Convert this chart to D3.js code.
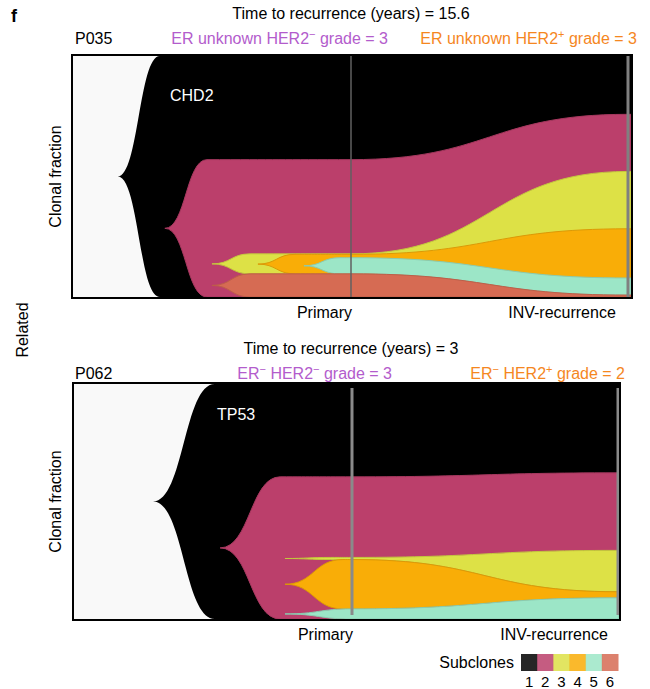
<!DOCTYPE html>
<html>
<head>
<meta charset="utf-8">
<script src="https://cdn.jsdelivr.net/npm/d3@7"></script>
<style>
  body { margin: 0; background: #fff; }
  text { font-family: "Liberation Sans", Arial, Helvetica, sans-serif; }
</style>
</head>
<body>
<svg id="chart" width="650" height="689"></svg>
<script>
// subclones and colours
var subclones = [1, 2, 3, 4, 5, 6];
var cloneColors = ["#000000", "#bb3f6b", "#dde146", "#f9ad07", "#9ce6c7", "#d66b53"];
var timeLabels = ["Primary", "INV-recurrence"];
var sampleTimes = [50, 100];

// P035 : parent clone, time it appears, time it reaches size, fractions (%)
var p035Parents = [0, 1, 2, 3, 4, 2];
var p035Emerge = [7.9, 16.4, 24.9, 33.2, 41.5, 24.9];
var p035Settle = [15.5, 24, 31.8, 39.9, 48, 31.8];
var p035Primary = [100, 57, 8.3, 8.1, 6.7, 9.6];
var p035Recurrence = [100, 75.8, 51.3, 27.5, 7.1, 0.8];

// P062
var p062Parents = [0, 1, 2, 2, 2];
var p062Emerge = [12.6, 25.2, 37.4, 37.4, 37.4];
var p062Settle = [24.2, 36.5, 46, 48.3, 50];
var p062Primary = [100, 60.5, 0.9, 21, 4.3];
var p062Recurrence = [100, 62.2, 17.6, 2.6, 9];

var purple = "#b35ccc", orange = "#f5871f";
var svg = d3.select("#chart");

// nested layout: children stacked at the bottom of their parent
function layout(fracs, parents) {
  var spans = [], cursor = {};
  fracs.forEach(function(f, i) {
    var p = parents[i];
    if (p === 0) { spans[i] = [(100 - f) / 2, (100 + f) / 2]; return; }
    var par = spans[p - 1];
    if (cursor[p] === undefined) {
      var kids = d3.sum(fracs.filter(function(_, j) { return parents[j] === p; }));
      cursor[p] = par[1] - kids;
    }
    spans[i] = [cursor[p], cursor[p] + f];
    cursor[p] += f;
  });
  return spans;
}

function drawPanel(cfg) {
  var g = svg.append("g");
  var x = d3.scaleLinear().domain([0, 100]).range([cfg.x0, cfg.x1]);
  var y = d3.scaleLinear().domain([0, 100]).range([cfg.top, cfg.bottom]);
  var tEnd = x.invert(cfg.frameRight);

  var clipId = "clip" + cfg.name;
  g.append("clipPath").attr("id", clipId).append("rect")
    .attr("x", cfg.frameLeft).attr("y", cfg.top)
    .attr("width", cfg.frameRight - cfg.frameLeft).attr("height", cfg.bottom - cfg.top);

  g.append("rect")
    .attr("x", cfg.frameLeft).attr("y", cfg.top)
    .attr("width", cfg.frameRight - cfg.frameLeft).attr("height", cfg.bottom - cfg.top)
    .style("fill", "#f9f9f9");

  var prim = layout(cfg.primary, cfg.parents);
  var rec = layout(cfg.recurrence, cfg.parents);

  var area = d3.area()
    .x(function(d) { return x(d.t); })
    .y0(function(d) { return y(d.a); })
    .y1(function(d) { return y(d.b); })
    .curve(d3.curveBumpX);

  var plot = g.append("g").attr("clip-path", "url(#" + clipId + ")");

  cfg.primary.forEach(function(f, i) {
    var mid = (prim[i][0] + prim[i][1]) / 2;
    var pts = [{t: cfg.emerge[i], a: mid, b: mid}];
    if (cfg.settle[i] < sampleTimes[0]) pts.push({t: cfg.settle[i], a: prim[i][0], b: prim[i][1]});
    pts.push({t: sampleTimes[0], a: prim[i][0], b: prim[i][1]});
    pts.push({t: sampleTimes[1], a: rec[i][0], b: rec[i][1]});
    pts.push({t: tEnd, a: rec[i][0], b: rec[i][1]});
    var c = cloneColors[i];
    plot.append("path")
      .datum(pts)
      .attr("d", area)
      .style("fill", c)
      .style("stroke", i === 0 ? "none" : d3.color(c).darker(0.35))
      .style("stroke-width", 1);
  });

  // sample lines
  sampleTimes.forEach(function(t, k) {
    plot.append("line")
      .attr("x1", x(t)).attr("x2", x(t))
      .attr("y1", cfg.top + cfg.lineInset).attr("y2", cfg.bottom - cfg.lineInset)
      .style("stroke", cfg.lineColor[k])
      .style("stroke-width", cfg.lineWidth[k]);
  });

  g.append("rect")
    .attr("x", cfg.frameLeft - 1).attr("y", cfg.top - 1)
    .attr("width", cfg.frameRight - cfg.frameLeft + 2).attr("height", cfg.bottom - cfg.top + 2)
    .style("fill", "none").style("stroke", "#000").style("stroke-width", 2);

  g.append("text").attr("x", cfg.geneX).attr("y", cfg.geneY)
    .text(cfg.gene).style("fill", "#fff").style("font-size", "16px");

  // time labels
  g.append("text").attr("x", x(sampleTimes[0]) + 1).attr("y", cfg.bottom + 21)
    .attr("text-anchor", "end").text(timeLabels[0]).style("font-size", "16px");
  g.append("text").attr("x", cfg.recLabelX).attr("y", cfg.bottom + 21)
    .attr("text-anchor", "middle").text(timeLabels[1]).style("font-size", "16px");

  g.append("text")
    .attr("transform", "translate(61," + ((cfg.top + cfg.bottom) / 2) + ") rotate(-90)")
    .attr("text-anchor", "middle").text("Clonal fraction").style("font-size", "16px");

  // headers
  g.append("text").attr("x", 351).attr("y", cfg.titleY).attr("text-anchor", "middle")
    .text("Time to recurrence (years) = " + cfg.years).style("font-size", "16px");
  g.append("text").attr("x", 75).attr("y", cfg.titleY + 25)
    .text(cfg.name).style("font-size", "16px");

  [cfg.primaryLabel, cfg.recLabel].forEach(function(lab, k) {
    var t = g.append("text").attr("x", lab.x).attr("y", cfg.titleY + 25)
      .attr("text-anchor", "end").style("font-size", "16px")
      .style("fill", k === 0 ? purple : orange);
    var shift = 0;
    lab.parts.forEach(function(p) {
      if (p.sup) {
        t.append("tspan").attr("dy", -6 - shift).style("font-size", "11px").text(p.sup);
        shift = -6;
      } else {
        t.append("tspan").attr("dy", -shift).text(p.txt);
        shift = 0;
      }
    });
  });
}

drawPanel({
  name: "P035", years: "15.6", gene: "CHD2", geneX: 170, geneY: 101,
  parents: p035Parents, emerge: p035Emerge, settle: p035Settle,
  primary: p035Primary, recurrence: p035Recurrence,
  x0: 74, x1: 628, frameLeft: 73, frameRight: 631, top: 56, bottom: 297,
  lineInset: 0, lineColor: ["#606060", "#808080"], lineWidth: [1.5, 3],
  recLabelX: 562, titleY: 19,
  primaryLabel: {x: 388, parts: [{txt: "ER unknown HER2"}, {sup: "\u2212"}, {txt: " grade = 3"}]},
  recLabel: {x: 637, parts: [{txt: "ER unknown HER2"}, {sup: "+"}, {txt: " grade = 3"}]}
});

drawPanel({
  name: "P062", years: "3", gene: "TP53", geneX: 217, geneY: 420,
  parents: p062Parents, emerge: p062Emerge, settle: p062Settle,
  primary: p062Primary, recurrence: p062Recurrence,
  x0: 86, x1: 618, frameLeft: 74, frameRight: 619, top: 384, bottom: 619,
  lineInset: 4, lineColor: ["#8a8a8a", "#8a8a8a"], lineWidth: [3, 3],
  recLabelX: 554, titleY: 354,
  primaryLabel: {x: 392, parts: [{txt: "ER"}, {sup: "\u2212"}, {txt: " HER2"}, {sup: "\u2212"}, {txt: " grade = 3"}]},
  recLabel: {x: 625, parts: [{txt: "ER"}, {sup: "\u2212"}, {txt: " HER2"}, {sup: "+"}, {txt: " grade = 2"}]}
});

// panel letter and side label
svg.append("text").attr("x", 11).attr("y", 22).text("f")
  .style("font-size", "18px").style("font-weight", "bold");
svg.append("text").attr("transform", "translate(28,330) rotate(-90)")
  .attr("text-anchor", "middle").text("Related").style("font-size", "16px");

// legend
var lx = d3.scaleBand().domain(subclones).range([521, 618]);
var legend = svg.append("g");
legend.append("text").attr("x", 514).attr("y", 668).attr("text-anchor", "end")
  .text("Subclones").style("font-size", "16px");
legend.selectAll("rect").data(subclones).enter().append("rect")
  .attr("x", function(d) { return lx(d); }).attr("y", 654)
  .attr("width", lx.bandwidth() + 0.5).attr("height", 17)
  .style("fill", function(d, i) { return cloneColors[i]; })
  .style("fill-opacity", 0.85);
legend.selectAll(".num").data(subclones).enter().append("text")
  .attr("class", "num")
  .attr("x", function(d) { return lx(d) + lx.bandwidth() / 2; }).attr("y", 687)
  .attr("text-anchor", "middle").text(function(d) { return d; })
  .style("font-size", "15px");
</script>
</body>
</html>
